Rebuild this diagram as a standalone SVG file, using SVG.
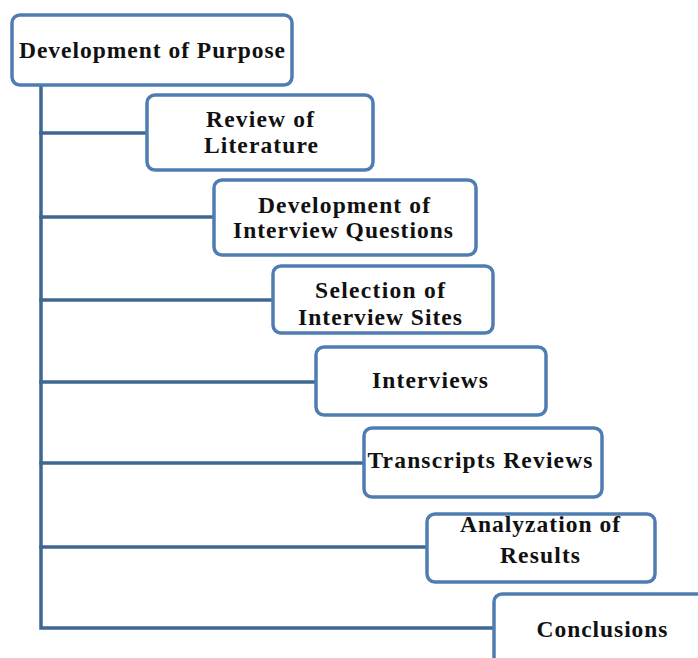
<svg xmlns="http://www.w3.org/2000/svg" width="698" height="658" viewBox="0 0 698 658">
<style>
.box{fill:#ffffff;stroke:#4f7db2;stroke-width:3.5}
.ln{stroke:#3f6792;stroke-width:3.5;fill:none;stroke-linecap:square}
.t{font-family:"Liberation Serif","Times New Roman",serif;font-weight:bold;font-size:23.5px;fill:#111111;text-anchor:middle}
</style>
<rect width="698" height="658" fill="#ffffff"/>
<g id="connectors">
<path class="ln" d="M41 86 V628 H494"/>
<path class="ln" d="M41 133 H147"/>
<path class="ln" d="M41 217 H214"/>
<path class="ln" d="M41 300 H273"/>
<path class="ln" d="M41 382 H316"/>
<path class="ln" d="M41 463 H364"/>
<path class="ln" d="M41 547 H427"/>
</g>
<g id="n1"><rect class="box" x="12" y="15" width="280" height="70" rx="8"/><text class="t" x="152" y="58" textLength="266">Development of Purpose</text></g>
<g id="n2"><rect class="box" x="147" y="95" width="226" height="75" rx="8"/><text class="t" x="260" y="127" textLength="108">Review of</text><text class="t" x="261" y="153" textLength="114">Literature</text></g>
<g id="n3"><rect class="box" x="214" y="180" width="262" height="75" rx="8"/><text class="t" x="344" y="213" textLength="172">Development of</text><text class="t" x="343" y="238" textLength="220">Interview Questions</text></g>
<g id="n4"><rect class="box" x="273" y="266" width="220" height="67" rx="8"/><text class="t" x="380" y="298" textLength="130">Selection of</text><text class="t" x="380" y="325" textLength="164">Interview Sites</text></g>
<g id="n5"><rect class="box" x="316" y="347" width="230" height="68" rx="8"/><text class="t" x="430" y="388" textLength="116">Interviews</text></g>
<g id="n6"><rect class="box" x="364" y="428" width="238" height="69" rx="8"/><text class="t" x="480" y="468" textLength="225">Transcripts Reviews</text></g>
<g id="n7"><rect class="box" x="427" y="514" width="228" height="68" rx="8"/><text class="t" x="540" y="532" textLength="160">Analyzation of</text><text class="t" x="540" y="563" textLength="80">Results</text></g>
<g id="n8"><rect class="box" x="494" y="594" width="240" height="90" rx="8"/><text class="t" x="602" y="637" textLength="131">Conclusions</text></g>
</svg>
